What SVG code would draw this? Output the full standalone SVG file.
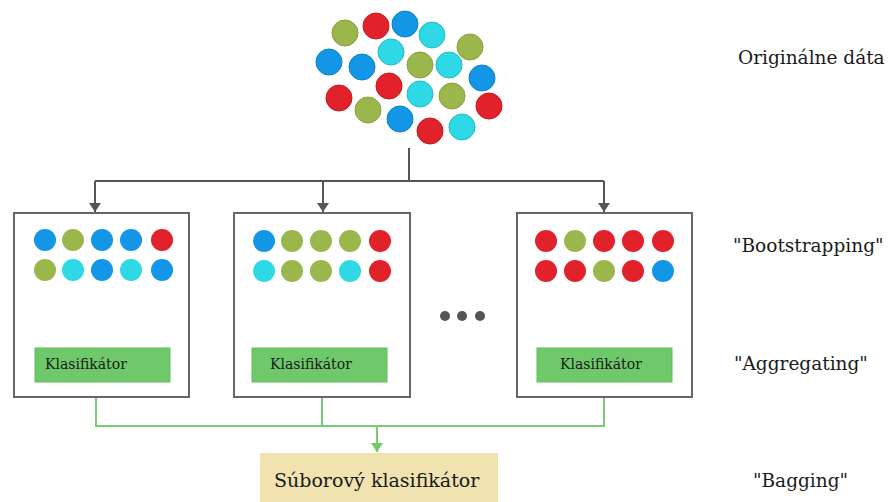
<svg xmlns="http://www.w3.org/2000/svg" width="888" height="502" viewBox="0 0 888 502">
<style>
.r{fill:#e2222b;stroke:#c81a22;stroke-width:1}
.b{fill:#1496e6;stroke:#1080c8;stroke-width:1}
.g{fill:#9bb74c;stroke:#86a03e;stroke-width:1}
.c{fill:#2ed8e4;stroke:#22bcc8;stroke-width:1}
.rs{fill:#e2222b}
.bs{fill:#1496e6}
.gs{fill:#9bb74c}
.cs{fill:#2ed8e4}
.box{fill:#fff;stroke:#666;stroke-width:2}
.clf{fill:#6fc96b;stroke:#63bd60;stroke-width:1}
.lbl{font-family:"DejaVu Serif","Liberation Serif",serif;fill:#1a1a1a}
.gl{fill:none;stroke:#555;stroke-width:2}
.grl{fill:none;stroke:#7acb75;stroke-width:2}
</style>
<defs>
<marker id="ag" viewBox="0 0 9 12" markerWidth="9" markerHeight="12" refX="9" refY="6" orient="auto" markerUnits="userSpaceOnUse">
<path d="M0,0 L9,6 L0,12 Z" fill="#555"/>
</marker>
<marker id="agr" viewBox="0 0 9 12" markerWidth="9" markerHeight="12" refX="9" refY="6" orient="auto" markerUnits="userSpaceOnUse">
<path d="M0,0 L9,6 L0,12 Z" fill="#6fc96b"/>
</marker>
</defs>
<rect width="888" height="502" fill="#fff"/>

<g id="original-data">
<circle class="g" cx="345" cy="33" r="13"/>
<circle class="r" cx="376" cy="26" r="13"/>
<circle class="b" cx="405" cy="24" r="13"/>
<circle class="c" cx="432" cy="35" r="13"/>
<circle class="g" cx="470" cy="47" r="13"/>
<circle class="b" cx="329" cy="62" r="13"/>
<circle class="b" cx="362" cy="67" r="13"/>
<circle class="c" cx="391" cy="52" r="13"/>
<circle class="g" cx="420" cy="65" r="13"/>
<circle class="c" cx="449" cy="65" r="13"/>
<circle class="b" cx="482" cy="78" r="13"/>
<circle class="r" cx="389" cy="86" r="13"/>
<circle class="r" cx="339" cy="98" r="13"/>
<circle class="c" cx="420" cy="94" r="13"/>
<circle class="g" cx="452" cy="96" r="13"/>
<circle class="r" cx="489" cy="106" r="13"/>
<circle class="g" cx="368" cy="110" r="13"/>
<circle class="b" cx="400" cy="119" r="13"/>
<circle class="r" cx="430" cy="131" r="13"/>
<circle class="c" cx="462" cy="127" r="13"/>
</g>

<g id="connectors">
<path class="gl" d="M409,148 V181"/>
<path class="gl" d="M95,181 H604"/>
<path class="gl" d="M95,181 V212" marker-end="url(#ag)"/>
<path class="gl" d="M323,181 V212" marker-end="url(#ag)"/>
<path class="gl" d="M604,181 V212" marker-end="url(#ag)"/>
<path class="grl" d="M96,382 V426 H604 V382"/>
<path class="grl" d="M322,382 V426"/>
<path class="grl" d="M377,426 V452" marker-end="url(#agr)"/>
</g>

<g id="sample-1">
<rect class="box" x="14" y="213" width="175" height="184"/>
<circle class="bs" cx="45" cy="240" r="11"/>
<circle class="gs" cx="73" cy="240" r="11"/>
<circle class="bs" cx="102" cy="240" r="11"/>
<circle class="bs" cx="131" cy="240" r="11"/>
<circle class="rs" cx="162" cy="240" r="11"/>
<circle class="gs" cx="45" cy="270" r="11"/>
<circle class="cs" cx="73" cy="270" r="11"/>
<circle class="bs" cx="102" cy="270" r="11"/>
<circle class="cs" cx="131" cy="270" r="11"/>
<circle class="bs" cx="162" cy="270" r="11"/>
<rect class="clf" x="35" y="348" width="135" height="34"/>
<text class="lbl" x="45" y="369" font-size="14">Klasifikátor</text>
</g>

<g id="sample-2">
<rect class="box" x="234" y="213" width="176" height="184"/>
<circle class="bs" cx="264" cy="241" r="11"/>
<circle class="gs" cx="292" cy="241" r="11"/>
<circle class="gs" cx="321" cy="241" r="11"/>
<circle class="gs" cx="350" cy="241" r="11"/>
<circle class="rs" cx="380" cy="241" r="11"/>
<circle class="cs" cx="264" cy="271" r="11"/>
<circle class="gs" cx="292" cy="271" r="11"/>
<circle class="gs" cx="321" cy="271" r="11"/>
<circle class="cs" cx="350" cy="271" r="11"/>
<circle class="rs" cx="380" cy="271" r="11"/>
<rect class="clf" x="252" y="348" width="135" height="34"/>
<text class="lbl" x="270" y="369" font-size="14">Klasifikátor</text>
</g>

<g id="ellipsis">
<circle cx="445" cy="316" r="5" fill="#555"/>
<circle cx="462" cy="316" r="5" fill="#555"/>
<circle cx="480" cy="316" r="5" fill="#555"/>
</g>

<g id="sample-n">
<rect class="box" x="517" y="213" width="175" height="184"/>
<circle class="rs" cx="546" cy="241" r="11"/>
<circle class="gs" cx="575" cy="241" r="11"/>
<circle class="rs" cx="604" cy="241" r="11"/>
<circle class="rs" cx="633" cy="241" r="11"/>
<circle class="rs" cx="663" cy="241" r="11"/>
<circle class="rs" cx="546" cy="271" r="11"/>
<circle class="rs" cx="575" cy="271" r="11"/>
<circle class="gs" cx="604" cy="271" r="11"/>
<circle class="rs" cx="633" cy="271" r="11"/>
<circle class="bs" cx="663" cy="271" r="11"/>
<rect class="clf" x="537" y="348" width="135" height="34"/>
<text class="lbl" x="560" y="369" font-size="14">Klasifikátor</text>
</g>

<g id="ensemble">
<rect x="260" y="453" width="238" height="49" fill="#f0e3b0"/>
<text class="lbl" x="274" y="487" font-size="19">Súborový klasifikátor</text>
</g>

<g id="labels">
<text class="lbl" x="738" y="64" font-size="18.5">Originálne dáta</text>
<text class="lbl" x="733" y="252" font-size="18.5">"Bootstrapping"</text>
<text class="lbl" x="734" y="370" font-size="18.5">"Aggregating"</text>
<text class="lbl" x="753" y="487" font-size="18.5">"Bagging"</text>
</g>
</svg>
